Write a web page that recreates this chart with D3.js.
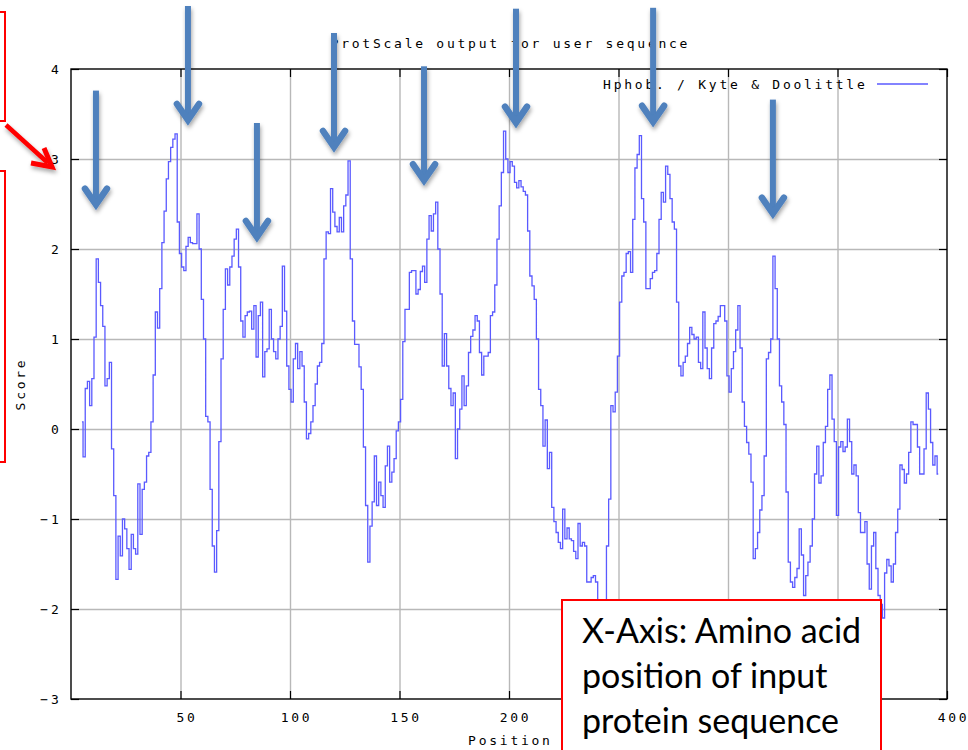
<!DOCTYPE html>
<html>
<head>
<meta charset="utf-8">
<script src="https://cdn.jsdelivr.net/npm/d3@7"></script>
<style>
  html, body { margin: 0; padding: 0; background: #ffffff; }
  svg { display: block; }
</style>
</head>
<body>
<svg id="chart" width="968" height="750"></svg>
<script>
// ---------------- DATA ----------------
const chartTitle = "ProtScale output for user sequence";
const legendLabel = "Hphob. / Kyte & Doolittle";
const xAxisLabel = "Position";
const yAxisLabel = "Score";

const startPosition = 5;  // first amino-acid position of the profile
const scores = [
  0.08, -0.31, 0.45, 0.53, 0.26, 0.56, 1.02, 1.89, 1.63, 1.37,
  1.14, 0.48, 0.56, 0.74, -0.22, -0.74, -1.67, -1.19, -1.41, -1.0,
  -1.11, -1.33, -1.56, -1.17, -1.33, -1.39, -0.61, -1.17, -0.67, -0.59,
  -0.3, -0.26, 0.08, 0.6, 1.3, 1.12, 1.56, 2.07, 2.42, 2.78,
  2.97, 3.13, 3.22, 3.28, 2.3, 1.95, 1.8, 1.76, 2.03, 2.13,
  2.07, 2.06, 2.06, 2.39, 2.0, 1.44, 1.0, 0.14, 0.08, -0.67,
  -1.3, -1.59, -1.13, -0.14, 0.78, 1.33, 1.78, 1.6, 1.8, 1.92,
  2.11, 2.22, 1.8, 1.2, 1.02, 1.26, 1.3, 1.31, 1.11, 1.37,
  0.8, 1.26, 1.41, 0.58, 0.86, 0.89, 1.33, 1.0, 0.86, 0.78,
  1.0, 1.14, 1.81, 1.31, 0.7, 0.44, 0.3, 0.78, 0.95, 0.67,
  0.86, 0.7, 0.3, -0.11, -0.05, 0.08, 0.26, 0.5, 0.7, 0.74,
  0.95, 1.89, 2.19, 2.17, 2.67, 2.41, 2.25, 2.19, 2.35, 2.19,
  2.48, 2.6, 2.98, 1.89, 1.2, 0.94, 0.94, 0.69, 0.44, -0.2,
  -0.85, -1.48, -1.08, -0.81, -0.3, -0.85, -0.59, -0.74, -0.87, -0.41,
  -0.19, -0.59, -0.48, -0.33, -0.02, 0.08, 0.33, 0.97, 1.33, 1.33,
  1.74, 1.76, 1.76, 1.5, 1.55, 1.75, 1.81, 1.63, 2.11, 2.37,
  2.2, 2.39, 2.52, 2.0, 1.5, 0.7, 1.06, 0.7, 0.45, 0.26,
  0.4, -0.33, 0.0, 0.22, 0.59, 0.26, 0.48, 0.85, 1.03, 1.1,
  1.26, 1.2, 0.85, 0.6, 0.81, 0.81, 0.85, 1.26, 1.3, 1.6,
  2.11, 2.48, 2.85, 3.31, 3.0, 2.85, 2.97, 2.92, 2.74, 2.68,
  2.76, 2.69, 2.64, 2.6, 2.2, 1.7, 1.59, 1.44, 1.0, 0.44,
  0.26, -0.19, 0.1, -0.44, -0.26, -0.87, -1.03, -1.15, -1.26, -1.33,
  -0.89, -1.22, -1.1, -1.22, -1.24, -1.36, -1.44, -1.05, -1.3, -1.26,
  -1.3, -1.7, -1.7, -1.65, -1.63, -1.7, -1.95, -2.15, -2.2, -1.95,
  -1.3, -0.78, 0.26, 0.19, 0.41, 0.81, 1.41, 1.7, 1.74, 1.95,
  1.97, 1.74, 2.33, 2.9, 3.05, 3.26, 2.56, 2.3, 1.56, 1.56,
  1.67, 1.74, 1.76, 1.95, 2.33, 2.63, 2.52, 2.92, 2.83, 2.56,
  2.3, 2.22, 1.41, 0.7, 0.59, 0.74, 0.81, 0.95, 1.13, 1.05,
  1.0, 1.02, 0.74, 0.67, 1.3, 0.9, 0.67, 0.56, 0.9, 1.17,
  1.2, 1.25, 1.37, 1.37, 1.2, 0.59, 0.41, 0.67, 0.86, 1.1,
  1.37, 0.9, 0.3, 0.03, -0.15, -0.28, -0.59, -1.44, -1.33, -1.15,
  -0.9, -0.74, -0.3, 0.78, 0.85, 1.0, 1.92, 1.56, 1.0, 0.48,
  0.3, 0.05, -0.7, -1.48, -1.7, -1.76, -1.65, -1.55, -1.11, -1.4,
  -1.85, -1.63, -1.48, -1.3, -1.0, -0.5, -0.19, -0.6, -0.52, -0.15,
  0.03, 0.44, 0.6, 0.11, -0.14, -0.96, -0.2, -0.14, -0.25, -0.2,
  0.11, -0.14, -0.5, -0.4, -0.52, -0.93, -1.15, -1.15, -1.03, -1.5,
  -1.78, -1.3, -1.15, -1.55, -1.85, -1.95, -2.1, -1.6, -1.45, -1.52,
  -1.7, -1.5, -1.15, -0.89, -0.4, -0.45, -0.6, -0.5, -0.26, 0.08,
  0.05, 0.05, -0.2, -0.5, -0.5, -0.22, 0.4, 0.22, -0.15, -0.4,
  -0.3, -0.5
];

const xDomain = [0, 400];
const yDomain = [-3, 4];
const xTickValues = [50, 100, 150, 200, 250, 300, 350, 400];
// labels at 250/300/350 are hidden under the note box in the reference
const xTickLabelValues = [50, 100, 150, 200, 400];
const yTickValues = [-3, -2, -1, 0, 1, 2, 3, 4];
const xGridValues = [50, 100, 150, 200, 250, 300, 350];
const yGridValues = [-2, -1, 0, 1, 2, 3];

// annotation overlay (in data units): down arrows at peaks, threshold line
const arrowPositions = [11.4, 53.4, 84.9, 120.1, 161.2, 203.2, 265.8, 320.5];
const arrowTipScores = [2.46, 3.40, 2.10, 3.10, 2.73, 3.37, 3.38, 2.36];
const thresholdScore = 0.9;
const noteLines = ["X-Axis: Amino acid", "position of input", "protein sequence"];

// ---------------- LAYOUT ----------------
const W = 968, H = 750;
const plot = { left: 71, right: 947, top: 69, bottom: 699 };
const monoFont = "'DejaVu Sans Mono', 'Liberation Mono', monospace";
const monoSize = 13, monoSpacing = 2.75;
const lineColor = "#5a5aff";
const gridColor = "#b8b8b8";
const annoBlue = "#4f81bd";
const annoRed = "#ff0000";

const svg = d3.select("#chart");

const defs = svg.append("defs");
defs.append("clipPath").attr("id", "plotClip")
  .append("rect")
  .attr("x", plot.left).attr("y", plot.top)
  .attr("width", plot.right - plot.left).attr("height", plot.bottom - plot.top);
const shadow = defs.append("filter").attr("id", "shadow")
  .attr("x", "-50%").attr("y", "-50%").attr("width", "200%").attr("height", "200%");
shadow.append("feDropShadow")
  .attr("dx", 1).attr("dy", 3).attr("stdDeviation", 2)
  .attr("flood-color", "#000").attr("flood-opacity", 0.35);

const x = d3.scaleLinear().domain(xDomain).range([plot.left, plot.right]);
const y = d3.scaleLinear().domain(yDomain).range([plot.bottom, plot.top]);

// grid
const gridG = svg.append("g").attr("class", "grid");
gridG.append("g")
  .attr("transform", `translate(0,${plot.bottom})`)
  .call(d3.axisBottom(x).tickValues(xGridValues).tickSize(-(plot.bottom - plot.top)).tickFormat(""))
  .call(g => g.select(".domain").remove())
  .call(g => g.selectAll("line").attr("stroke", gridColor).attr("stroke-width", 1.4));
gridG.append("g")
  .attr("transform", `translate(${plot.left},0)`)
  .call(d3.axisLeft(y).tickValues(yGridValues).tickSize(-(plot.right - plot.left)).tickFormat(""))
  .call(g => g.select(".domain").remove())
  .call(g => g.selectAll("line").attr("stroke", gridColor).attr("stroke-width", 1.4));

// data line
const profile = scores.map((s, i) => ({ pos: startPosition + i, score: s }));
const line = d3.line()
  .x(d => x(d.pos))
  .y(d => y(d.score))
  .curve(d3.curveStep);
svg.append("path")
  .datum(profile)
  .attr("clip-path", "url(#plotClip)")
  .attr("fill", "none")
  .attr("stroke", lineColor)
  .attr("stroke-width", 1.3)
  .attr("d", line);

// axes with inward ticks
function styleAxis(g) {
  g.select(".domain").remove();
  g.selectAll("line").attr("stroke", "#000").attr("stroke-width", 1.2);
  g.selectAll("text")
    .attr("fill", "#000")
    .style("font-family", monoFont)
    .style("font-size", monoSize + "px")
    .style("letter-spacing", monoSpacing + "px");
}
svg.append("g")
  .attr("transform", `translate(0,${plot.bottom})`)
  .call(d3.axisBottom(x).tickValues(xTickValues).tickSize(-8)
    .tickFormat(d => xTickLabelValues.includes(d) ? d3.format("d")(d) : ""))
  .call(styleAxis)
  .call(g => g.selectAll("text").filter(function () { return this.textContent === ""; }).remove())
  .call(g => g.selectAll("text").attr("y", 18).attr("dy", "0.35em").attr("dx", 6));
svg.append("g")
  .attr("transform", `translate(0,${plot.top})`)
  .call(d3.axisTop(x).tickValues(xTickValues).tickSize(-8).tickFormat(""))
  .call(styleAxis)
  .call(g => g.selectAll("text").remove());
svg.append("g")
  .attr("transform", `translate(${plot.left},0)`)
  .call(d3.axisLeft(y).tickValues(yTickValues).tickSize(-8).tickFormat(d3.format("d")))
  .call(styleAxis)
  .call(g => g.selectAll("text").attr("x", -9.5).attr("dy", "0.35em"));
svg.append("g")
  .attr("transform", `translate(${plot.right},0)`)
  .call(d3.axisRight(y).tickValues(yTickValues).tickSize(-8).tickFormat(""))
  .call(styleAxis)
  .call(g => g.selectAll("text").remove());

// frame
svg.append("rect")
  .attr("x", plot.left).attr("y", plot.top)
  .attr("width", plot.right - plot.left).attr("height", plot.bottom - plot.top)
  .attr("fill", "none").attr("stroke", "#000").attr("stroke-width", 1.4);

// texts
function monoText(sel) {
  return sel.attr("fill", "#000")
    .style("font-family", monoFont)
    .style("font-size", monoSize + "px")
    .style("letter-spacing", monoSpacing + "px");
}
svg.append("text").call(monoText)
  .attr("x", (plot.left + plot.right) / 2 + 1.4).attr("y", 43).attr("dy", "0.35em")
  .attr("text-anchor", "middle").text(chartTitle);
svg.append("text").call(monoText)
  .attr("x", (plot.left + plot.right) / 2 + 1.4).attr("y", 740).attr("dy", "0.35em")
  .attr("text-anchor", "middle").text(xAxisLabel);
svg.append("text").call(monoText)
  .attr("transform", `translate(20,${(plot.top + plot.bottom) / 2}) rotate(-90)`)
  .attr("dy", "0.35em")
  .attr("text-anchor", "middle").text(yAxisLabel);

// legend
svg.append("text").call(monoText)
  .attr("x", 867.5).attr("y", 84).attr("dy", "0.35em")
  .attr("text-anchor", "end").text(legendLabel);
svg.append("line")
  .attr("x1", 877).attr("x2", 928).attr("y1", 84).attr("y2", 84)
  .attr("stroke", lineColor).attr("stroke-width", 1.3);

// ---------------- ANNOTATION OVERLAY ----------------
const anno = svg.append("g").attr("class", "annotations");

// threshold line
anno.append("line")
  .attr("x1", 10).attr("x2", W)
  .attr("y1", y(thresholdScore)).attr("y2", y(thresholdScore))
  .attr("stroke", annoBlue).attr("stroke-width", 4)
  .attr("filter", "url(#shadow)");

// peak arrows
const arrowLength = 117;
arrowPositions.forEach((p, i) => {
  const ax = x(p), tip = y(arrowTipScores[i]);
  const g = anno.append("g").attr("filter", "url(#shadow)");
  g.append("line")
    .attr("x1", ax).attr("x2", ax)
    .attr("y1", Math.max(0, tip - arrowLength)).attr("y2", tip - 4)
    .attr("stroke", annoBlue).attr("stroke-width", 6);
  g.append("path")
    .attr("d", `M${ax - 11},${tip - 19} L${ax},${tip - 3} L${ax + 11},${tip - 19}`)
    .attr("fill", "none")
    .attr("stroke", annoBlue).attr("stroke-width", 6.5)
    .attr("stroke-linejoin", "miter").attr("stroke-linecap", "round");
});

// red boxes on the left margin
anno.append("rect").attr("x", -10).attr("y", 12).attr("width", 15).attr("height", 109)
  .attr("fill", "#fff").attr("stroke", annoRed).attr("stroke-width", 2);
anno.append("rect").attr("x", -10).attr("y", 171).attr("width", 15).attr("height", 291)
  .attr("fill", "#fff").attr("stroke", annoRed).attr("stroke-width", 2);

// red arrow pointing at the y axis
const redArrow = anno.append("g").attr("filter", "url(#shadow)");
redArrow.append("line")
  .attr("x1", 6).attr("y1", 125).attr("x2", 48).attr("y2", 163)
  .attr("stroke", annoRed).attr("stroke-width", 4.5);
redArrow.append("path")
  .attr("d", "M31,163 L52,167 L44,148")
  .attr("fill", "none").attr("stroke", annoRed).attr("stroke-width", 5)
  .attr("stroke-linejoin", "miter");

// note box
anno.append("rect").attr("x", 562).attr("y", 600).attr("width", 319).attr("height", 200)
  .attr("fill", "#fff").attr("stroke", annoRed).attr("stroke-width", 2);
anno.selectAll("text.note").data(noteLines).join("text")
  .attr("class", "note")
  .attr("x", 582).attr("y", (d, i) => 643 + i * 45)
  .attr("fill", "#000")
  .style("font-family", "Lato, 'Open Sans', sans-serif")
  .style("font-size", "34px")
  .text(d => d);
</script>
</body>
</html>
